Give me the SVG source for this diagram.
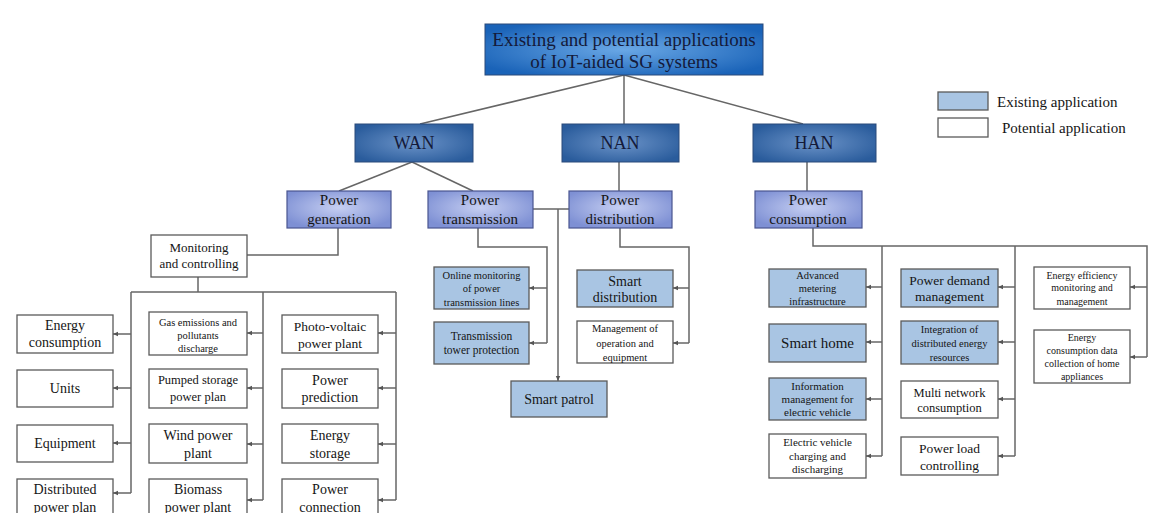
<svg xmlns="http://www.w3.org/2000/svg" width="1164" height="513" viewBox="0 0 1164 513">
<defs>
<radialGradient id="gTitle" cx="0.5" cy="0.5" r="0.6">
<stop offset="0" stop-color="#6aa8e6"/><stop offset="1" stop-color="#1a63b8"/>
</radialGradient>
<radialGradient id="gNet" cx="0.5" cy="0.5" r="0.6">
<stop offset="0" stop-color="#6b93c8"/><stop offset="1" stop-color="#2a5c9c"/>
</radialGradient>
<radialGradient id="gPow" cx="0.5" cy="0.45" r="0.6">
<stop offset="0" stop-color="#c6cff2"/><stop offset="1" stop-color="#7e90d4"/>
</radialGradient>
<marker id="ar" markerWidth="6" markerHeight="6" refX="5" refY="3" orient="auto" markerUnits="userSpaceOnUse">
<path d="M0,0.8 L5,3 L0,5.2 z" fill="#555"/>
</marker>
<style>
.ex{fill:#a9c5e3;stroke:#5a5a5a;stroke-width:1.3}
.po{fill:#fff;stroke:#5a5a5a;stroke-width:1.3}
.pw{fill:url(#gPow);stroke:#4a5590;stroke-width:1.2}
.net{fill:url(#gNet);stroke:#2a4a7a;stroke-width:1}
.tt{fill:url(#gTitle);stroke:#2a4a7a;stroke-width:1}
text{font-family:"Liberation Serif","Times New Roman",serif;fill:#151515;text-anchor:middle}
.dk{fill:#141a3a}
.c line,.c polyline,.c path{stroke:#666;stroke-width:1.5;fill:none}
.a{marker-end:url(#ar)}
</style>
</defs>
<rect width="1164" height="513" fill="#fff"/>

<g class="c" id="connectors">
<line x1="624" y1="75" x2="420" y2="124"/>
<line x1="624" y1="75" x2="624" y2="124"/>
<line x1="624" y1="75" x2="803" y2="124"/>
<line x1="412" y1="162" x2="339" y2="191"/>
<line x1="412" y1="162" x2="473" y2="191"/>
<line x1="619" y1="162" x2="619" y2="191"/>
<line x1="807" y1="162" x2="807" y2="191"/>
<line x1="533" y1="209" x2="569" y2="209"/>
<line class="a" x1="558" y1="209" x2="558" y2="381"/>
<polyline points="478,228 478,247 547,247 547,343"/>
<line class="a" x1="547" y1="288" x2="529" y2="288"/>
<line class="a" x1="547" y1="343" x2="529" y2="343"/>
<polyline points="620,228 620,247 689,247 689,343"/>
<line class="a" x1="689" y1="288" x2="673" y2="288"/>
<line class="a" x1="689" y1="343" x2="673" y2="343"/>
<polyline points="338,228 338,255 247,255"/>
<line x1="198" y1="277" x2="198" y2="292"/>
<line x1="131" y1="292" x2="396" y2="292"/>
<line x1="131" y1="292" x2="131" y2="493"/>
<line x1="263" y1="292" x2="263" y2="500"/>
<line x1="396" y1="292" x2="396" y2="500"/>
<line class="a" x1="131" y1="334" x2="113" y2="334"/>
<line class="a" x1="131" y1="388" x2="113" y2="388"/>
<line class="a" x1="131" y1="443" x2="113" y2="443"/>
<line class="a" x1="131" y1="493" x2="113" y2="493"/>
<line class="a" x1="263" y1="333" x2="247" y2="333"/>
<line class="a" x1="263" y1="388" x2="247" y2="388"/>
<line class="a" x1="263" y1="444" x2="247" y2="444"/>
<line class="a" x1="263" y1="500" x2="247" y2="500"/>
<line class="a" x1="396" y1="333" x2="378" y2="333"/>
<line class="a" x1="396" y1="388" x2="378" y2="388"/>
<line class="a" x1="396" y1="444" x2="378" y2="444"/>
<line class="a" x1="396" y1="500" x2="378" y2="500"/>
<polyline points="813,228 813,246 1147,246 1147,357"/>
<line x1="882" y1="246" x2="882" y2="456"/>
<line x1="1015" y1="246" x2="1015" y2="456"/>
<line class="a" x1="882" y1="287" x2="866" y2="287"/>
<line class="a" x1="882" y1="342" x2="866" y2="342"/>
<line class="a" x1="882" y1="399" x2="866" y2="399"/>
<line class="a" x1="882" y1="456" x2="866" y2="456"/>
<line class="a" x1="1015" y1="287" x2="998" y2="287"/>
<line class="a" x1="1015" y1="342" x2="998" y2="342"/>
<line class="a" x1="1015" y1="399" x2="998" y2="399"/>
<line class="a" x1="1015" y1="456" x2="998" y2="456"/>
<line class="a" x1="1147" y1="287" x2="1130" y2="287"/>
<line class="a" x1="1147" y1="357" x2="1130" y2="357"/>
</g>

<g id="title"><rect class="tt" x="485" y="24" width="278" height="51"/>
<text class="dk" x="624" y="46" font-size="19">Existing and potential applications</text>
<text class="dk" x="624" y="68" font-size="19">of IoT-aided SG systems</text></g>

<g id="legend">
<rect class="ex" x="938" y="92" width="50" height="18"/>
<text x="997" y="107" font-size="15" style="text-anchor:start">Existing application</text>
<rect class="po" x="938" y="118" width="50" height="19"/>
<text x="1002" y="133" font-size="15" style="text-anchor:start">Potential application</text>
</g>

<g id="wan"><rect class="net" x="355" y="124" width="118" height="38"/><text class="dk" x="414" y="149" font-size="18">WAN</text></g>
<g id="nan"><rect class="net" x="562" y="124" width="117" height="38"/><text class="dk" x="620" y="149" font-size="18">NAN</text></g>
<g id="han"><rect class="net" x="753" y="124" width="123" height="38"/><text class="dk" x="814" y="149" font-size="18">HAN</text></g>

<g id="power-generation"><rect class="pw" x="287" y="191" width="104" height="37"/><text x="339" y="205" font-size="15">Power</text><text x="339" y="224" font-size="15">generation</text></g>
<g id="power-transmission"><rect class="pw" x="428" y="191" width="105" height="37"/><text x="480" y="205" font-size="15">Power</text><text x="480" y="224" font-size="15">transmission</text></g>
<g id="power-distribution"><rect class="pw" x="569" y="191" width="103" height="37"/><text x="620" y="205" font-size="15">Power</text><text x="620" y="224" font-size="15">distribution</text></g>
<g id="power-consumption"><rect class="pw" x="755" y="191" width="107" height="37"/><text x="808" y="205" font-size="15">Power</text><text x="808" y="224" font-size="15">consumption</text></g>

<g id="monitoring"><rect class="po" x="151" y="235" width="96" height="42"/><text x="199" y="252" font-size="13">Monitoring</text><text x="199" y="268" font-size="13">and controlling</text></g>

<g id="energy-consumption"><rect class="po" x="17" y="315" width="96" height="38"/><text x="65" y="330" font-size="14">Energy</text><text x="65" y="347" font-size="14">consumption</text></g>
<g id="units"><rect class="po" x="17" y="370" width="96" height="37"/><text x="65" y="393" font-size="14">Units</text></g>
<g id="equipment"><rect class="po" x="17" y="425" width="96" height="37"/><text x="65" y="448" font-size="14">Equipment</text></g>
<g id="distributed"><rect class="po" x="17" y="479" width="96" height="45"/><text x="65" y="494" font-size="14">Distributed</text><text x="65" y="512" font-size="14">power plan</text></g>

<g id="gas"><rect class="po" x="149" y="312" width="98" height="43"/><text x="198" y="325.5" font-size="10.5">Gas emissions and</text><text x="198" y="338.5" font-size="10.5">pollutants</text><text x="198" y="351.5" font-size="10.5">discharge</text></g>
<g id="pumped"><rect class="po" x="149" y="369" width="98" height="39"/><text x="198" y="384" font-size="12.5">Pumped storage</text><text x="198" y="401" font-size="12.5">power plan</text></g>
<g id="wind"><rect class="po" x="149" y="424" width="98" height="39"/><text x="198" y="440" font-size="14">Wind power</text><text x="198" y="458" font-size="14">plant</text></g>
<g id="biomass"><rect class="po" x="149" y="479" width="98" height="45"/><text x="198" y="494" font-size="14">Biomass</text><text x="198" y="512" font-size="14">power plant</text></g>

<g id="pv"><rect class="po" x="282" y="315" width="96" height="38"/><text x="330" y="331" font-size="13.5">Photo-voltaic</text><text x="330" y="348" font-size="13.5">power plant</text></g>
<g id="prediction"><rect class="po" x="282" y="369" width="96" height="39"/><text x="330" y="385" font-size="14">Power</text><text x="330" y="402" font-size="14">prediction</text></g>
<g id="storage"><rect class="po" x="282" y="424" width="96" height="39"/><text x="330" y="440" font-size="14">Energy</text><text x="330" y="458" font-size="14">storage</text></g>
<g id="connection"><rect class="po" x="282" y="479" width="96" height="45"/><text x="330" y="494" font-size="14">Power</text><text x="330" y="512" font-size="14">connection</text></g>

<g id="online-monitoring"><rect class="ex" x="434" y="267" width="95" height="42"/><text x="481.5" y="278.5" font-size="10.5">Online monitoring</text><text x="481.5" y="291.5" font-size="10.5">of power</text><text x="481.5" y="305.5" font-size="10.5">transmission lines</text></g>
<g id="tower"><rect class="ex" x="434" y="322" width="95" height="42"/><text x="481.5" y="340" font-size="11.5">Transmission</text><text x="481.5" y="354" font-size="11.5">tower protection</text></g>
<g id="smart-patrol"><rect class="ex" x="511" y="381" width="96" height="36"/><text x="559" y="404" font-size="14">Smart patrol</text></g>
<g id="smart-distribution"><rect class="ex" x="577" y="270" width="96" height="37"/><text x="625" y="286" font-size="14">Smart</text><text x="625" y="302" font-size="14">distribution</text></g>
<g id="management-op"><rect class="po" x="577" y="321" width="96" height="42"/><text x="625" y="331.5" font-size="10.5">Management of</text><text x="625" y="346.5" font-size="10.5">operation and</text><text x="625" y="360.5" font-size="10.5">equipment</text></g>

<g id="ami"><rect class="ex" x="769" y="269" width="97" height="38"/><text x="817.5" y="278.5" font-size="10.5">Advanced</text><text x="817.5" y="291.5" font-size="10.5">metering</text><text x="817.5" y="305" font-size="10.5">infrastructure</text></g>
<g id="smart-home"><rect class="ex" x="769" y="324" width="97" height="38"/><text x="817.5" y="348" font-size="15">Smart home</text></g>
<g id="ev-info"><rect class="ex" x="769" y="378" width="97" height="42"/><text x="817.5" y="389.5" font-size="11">Information</text><text x="817.5" y="402.5" font-size="11">management for</text><text x="817.5" y="415.5" font-size="11">electric vehicle</text></g>
<g id="ev-charging"><rect class="po" x="769" y="434" width="97" height="44"/><text x="817.5" y="445.5" font-size="11">Electric vehicle</text><text x="817.5" y="459.5" font-size="11">charging and</text><text x="817.5" y="472.5" font-size="11">discharging</text></g>

<g id="demand"><rect class="ex" x="901" y="269" width="97" height="38"/><text x="949.5" y="285" font-size="13.5">Power demand</text><text x="949.5" y="301" font-size="13.5">management</text></g>
<g id="der"><rect class="ex" x="901" y="321" width="97" height="43"/><text x="949.5" y="332.5" font-size="10.5">Integration of</text><text x="949.5" y="346.5" font-size="10.5">distributed energy</text><text x="949.5" y="360.5" font-size="10.5">resources</text></g>
<g id="multi-network"><rect class="po" x="901" y="381" width="97" height="37"/><text x="949.5" y="396.5" font-size="12.5">Multi network</text><text x="949.5" y="411.5" font-size="12.5">consumption</text></g>
<g id="load"><rect class="po" x="901" y="437" width="97" height="38"/><text x="949.5" y="453" font-size="13.5">Power load</text><text x="949.5" y="470" font-size="13.5">controlling</text></g>

<g id="efficiency"><rect class="po" x="1034" y="267" width="96" height="42"/><text x="1082" y="278.5" font-size="10">Energy efficiency</text><text x="1082" y="290.5" font-size="10">monitoring and</text><text x="1082" y="304.5" font-size="10">management</text></g>
<g id="consumption-data"><rect class="po" x="1034" y="330" width="96" height="53"/><text x="1082" y="340.5" font-size="10">Energy</text><text x="1082" y="353.5" font-size="10">consumption data</text><text x="1082" y="366.5" font-size="10">collection of home</text><text x="1082" y="380" font-size="10">appliances</text></g>
</svg>
